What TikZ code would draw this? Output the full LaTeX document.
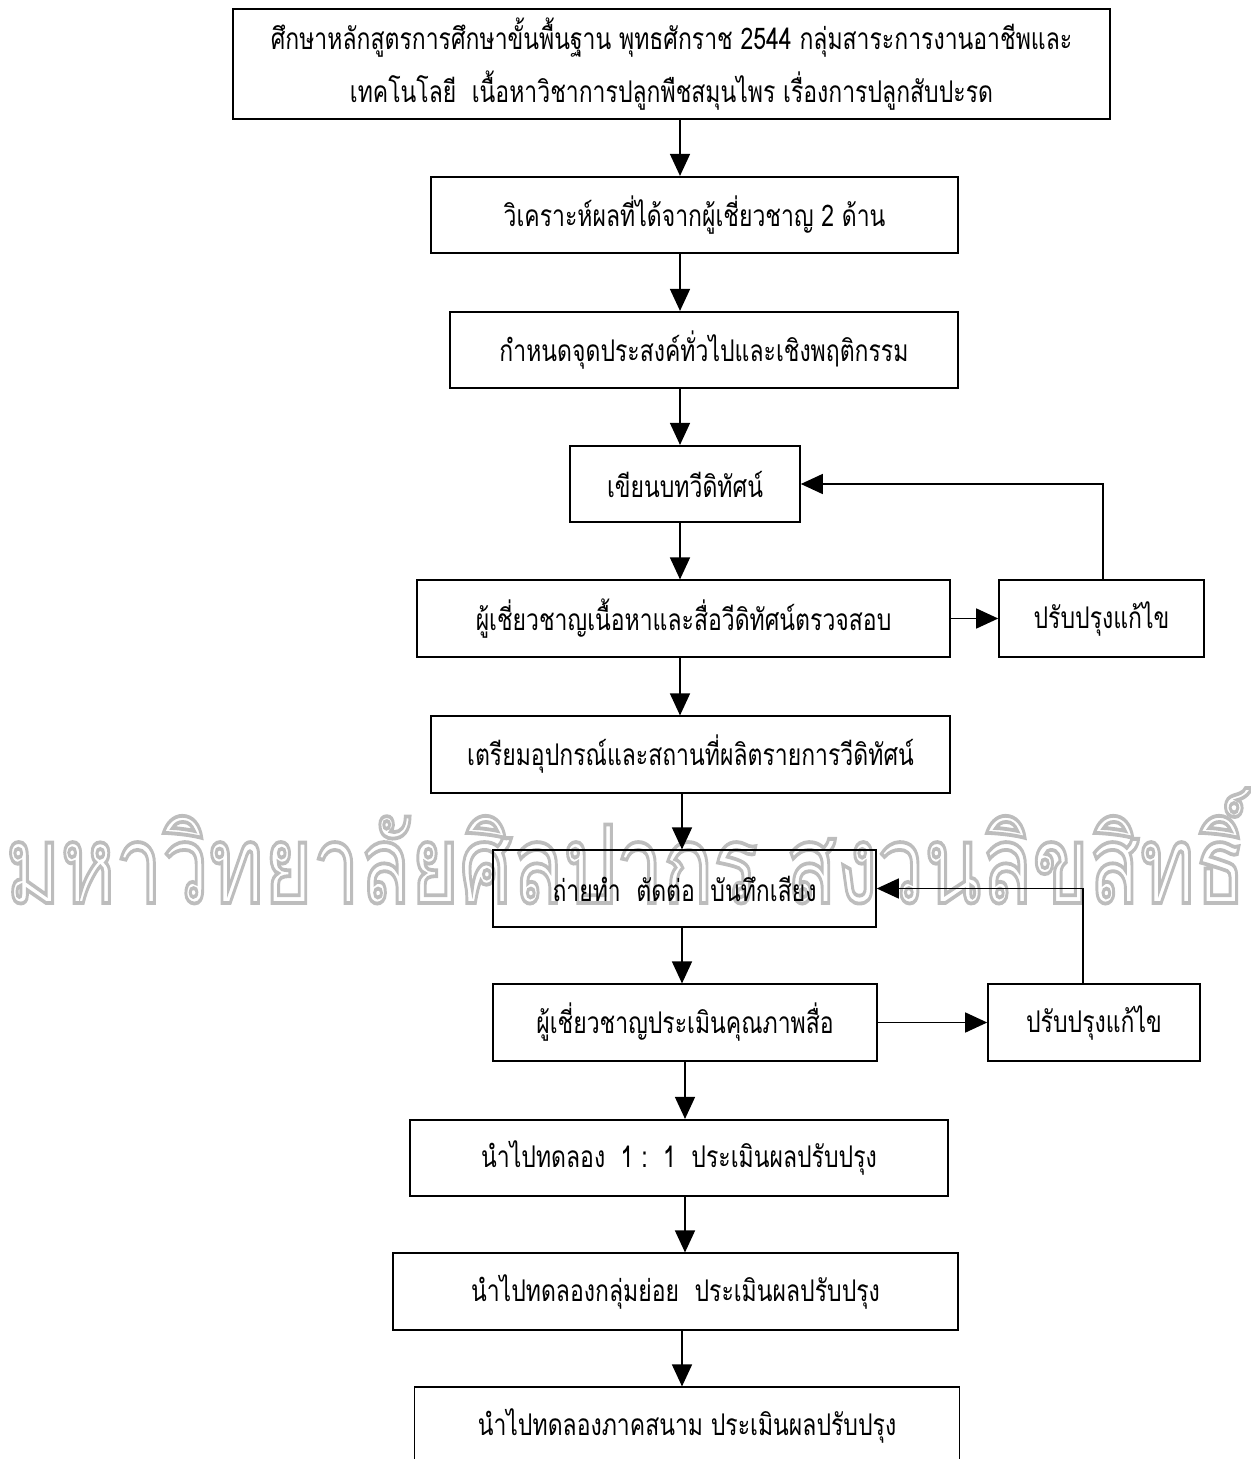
\documentclass[tikz,border=0pt]{standalone}
\usepackage{fontspec}
\newfontfamily\thaifont[Script=Thai,FakeStretch=0.77]{Loma}
\newfontfamily\wmfont[Script=Thai]{Loma}
\usetikzlibrary{arrows.meta}
\definecolor{wmgray}{gray}{0.74}
\tikzstyle{pbox} = [rectangle, draw, line width=0.95pt, inner sep=0pt,
    minimum height=1.53cm, font=\thaifont\fontsize{17}{30}\selectfont]
\tikzstyle{wm} = [inner sep=0pt, text=wmgray]

\begin{document}
\begin{tikzpicture}[->,>={Triangle[length=0.44cm,width=0.4cm]},
                    x=0.02cm,y=-0.02cm,line width=0.85pt]
  \useasboundingbox (0,0) rectangle (1250,1459);
  % watermark
  \node[wm,anchor=base west] (mark) at (5,903)
    {\resizebox{24.8cm}{2.3cm}{\wmfont\special{pdf:literal direct 1 Tr 0.35 w}มหาวิทยาลัยศิลปากร สงวนลิขสิทธิ์\special{pdf:literal direct 0 Tr}}};
  % main column
  \node[pbox,align=center,minimum width=17.54cm,minimum height=2.2cm] (b1) at (671.5,64)
    {ศึกษาหลักสูตรการศึกษาขั้นพื้นฐาน พุทธศักราช 2544 กลุ่มสาระการงานอาชีพและ\\
     เทคโนโลยี\ \ เนื้อหาวิชาการปลูกพืชสมุนไพร เรื่องการปลูกสับปะรด};
  \node[pbox,minimum width=10.54cm] (b2) at (694.5,215) {วิเคราะห์ผลที่ได้จากผู้เชี่ยวชาญ 2 ด้าน};
  \node[pbox,minimum width=10.16cm] (b3) at (704,350) {กำหนดจุดประสงค์ทั่วไปและเชิงพฤติกรรม};
  \node[pbox,minimum width=4.6cm] (b4) at (685,484) {เขียนบทวีดิทัศน์};
  \node[pbox,minimum width=10.66cm] (b5) at (683.5,618.5) {ผู้เชี่ยวชาญเนื้อหาและสื่อวีดิทัศน์ตรวจสอบ};
  \node[pbox,minimum width=4.1cm] (b5r) at (1101.5,618.5) {ปรับปรุงแก้ไข};
  \node[pbox,minimum width=10.38cm] (b6) at (690.5,754.5) {เตรียมอุปกรณ์และสถานที่ผลิตรายการวีดิทัศน์};
  \node[pbox,minimum width=7.66cm] (b7) at (684.5,888.5) {ถ่ายทำ\ \ ตัดต่อ\ \ บันทึกเสียง};
  \node[pbox,minimum width=7.68cm] (b8) at (685,1022.5) {ผู้เชี่ยวชาญประเมินคุณภาพสื่อ};
  \node[pbox,minimum width=4.24cm] (b8r) at (1094,1022.5) {ปรับปรุงแก้ไข};
  \node[pbox,minimum width=10.76cm] (b9) at (679,1158) {นำไปทดลอง\ \ 1 :\ \ 1\ \ ประเมินผลปรับปรุง};
  \node[pbox,minimum width=11.3cm] (b10) at (675.5,1291.5) {นำไปทดลองกลุ่มย่อย\ \ ประเมินผลปรับปรุง};
  \node[pbox,minimum width=10.9cm] (b11) at (687,1425.5) {นำไปทดลองภาคสนาม ประเมินผลปรับปรุง};

  \coordinate (c1) at (680,0);
  \coordinate (c2) at (682,0);
  \coordinate (c3) at (685,0);
  \coordinate (f1) at (1103,0);
  \coordinate (f2) at (1083,0);

  \path (b1.south -| c1) edge (b2.north -| c1)
        (b2.south -| c1) edge (b3.north -| c1)
        (b3.south -| c1) edge (b4.north -| c1)
        (b4.south -| c1) edge (b5.north -| c1)
        (b5.south -| c1) edge (b6.north -| c1)
        (b6.south -| c2) edge (b7.north -| c2)
        (b7.south -| c2) edge (b8.north -| c2)
        (b8.south -| c3) edge (b9.north -| c3)
        (b9.south -| c3) edge (b10.north -| c3)
        (b10.south -| c2) edge (b11.north -| c2)
        (b5) edge (b5r)
        (b8) edge (b8r);
  % loops back
  \draw (b5r.north -| f1) |- (b4.east);
  \draw (b8r.north -| f2) |- (b7.east);
\end{tikzpicture}
\end{document}
